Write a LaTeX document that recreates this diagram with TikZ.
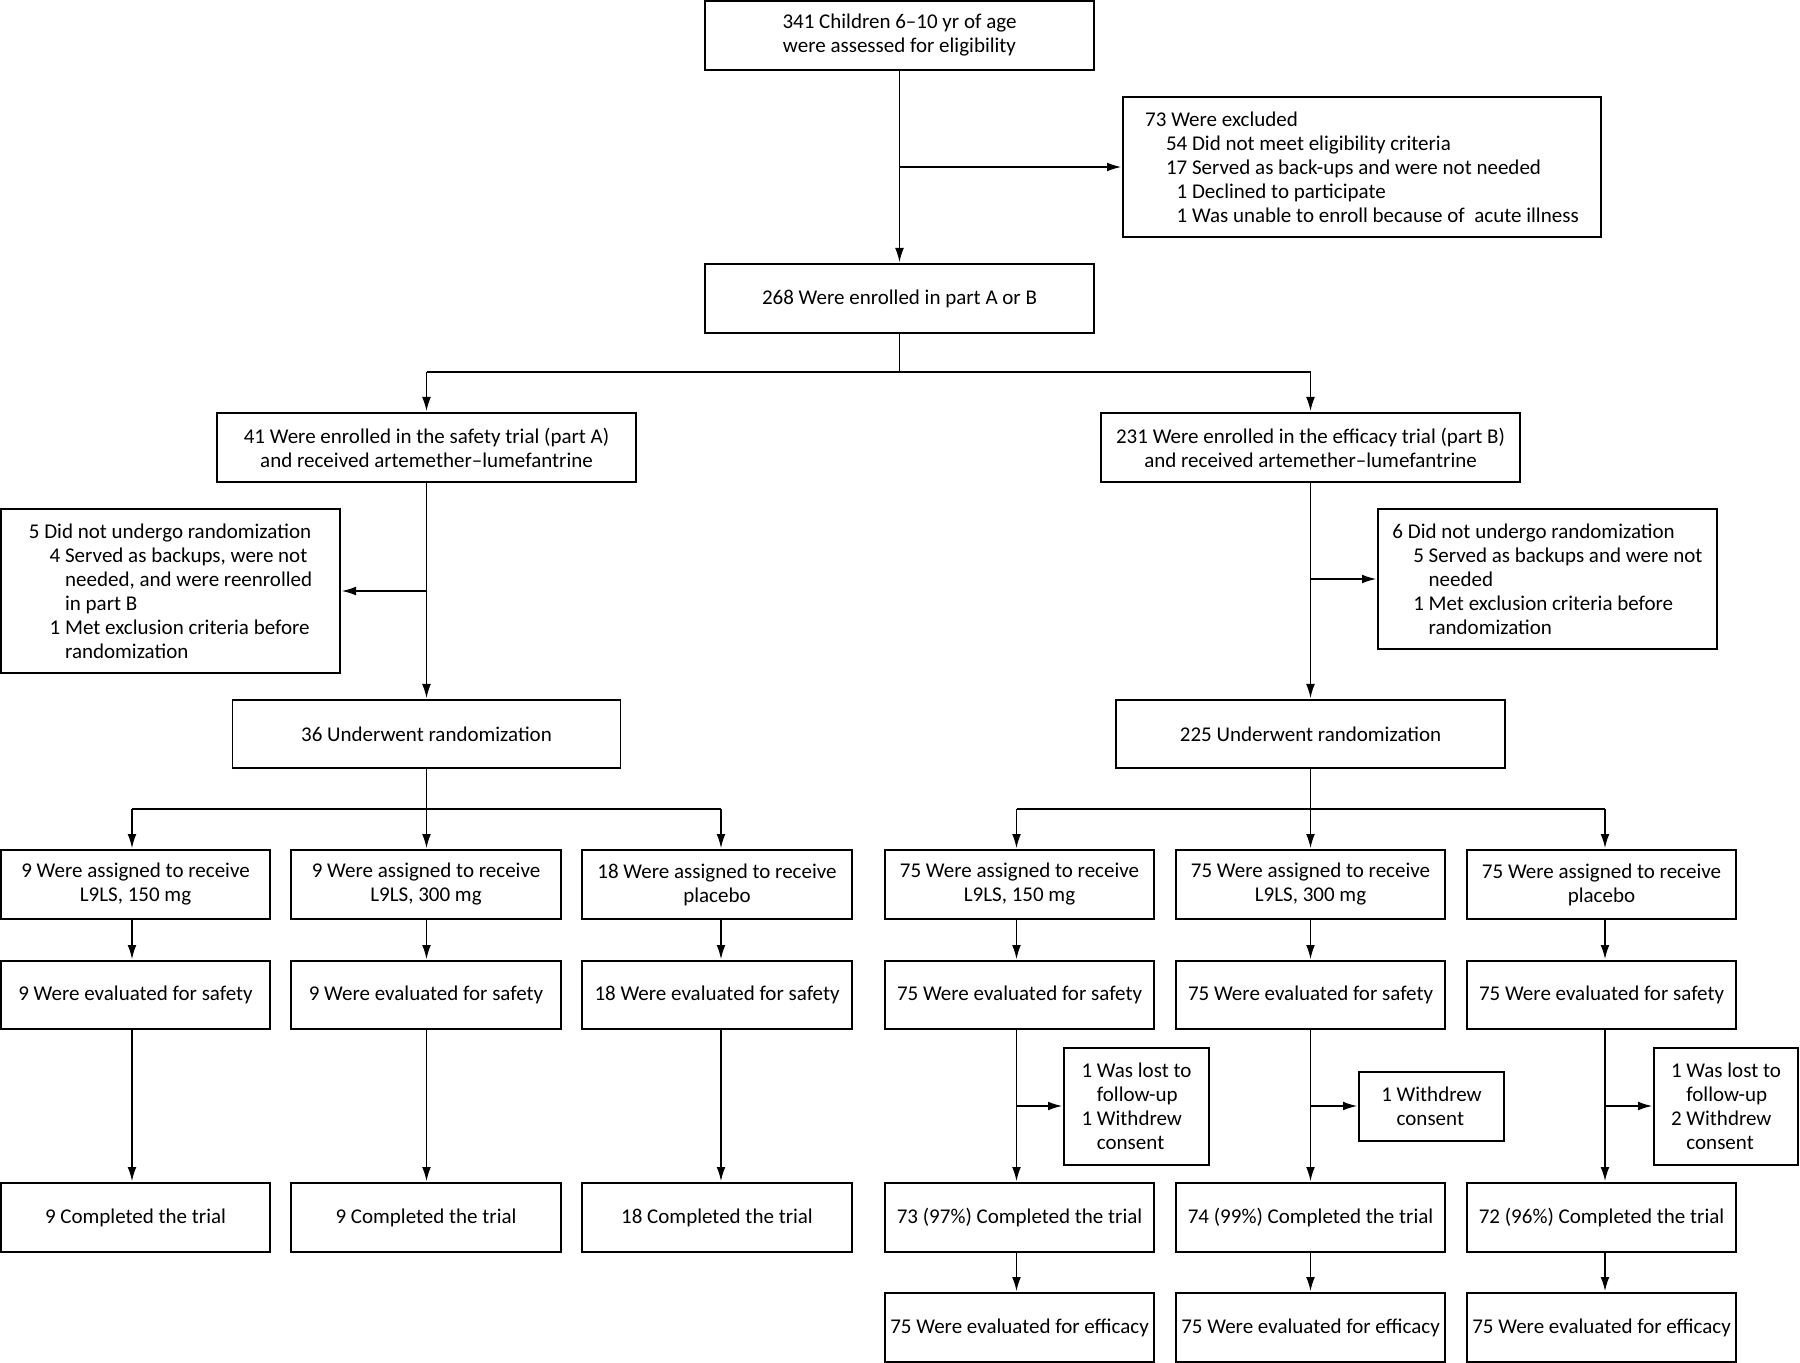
\documentclass[tikz,border=0pt]{standalone}
\usepackage{fontspec}
\setmainfont{Carlito}
\usetikzlibrary{arrows.meta}
\newcommand\ind{\hspace*{10.4pt}}
\newcommand\bx[7][]{%
  \pgfmathsetmacro\bxw{(#5-#3)*0.5}%
  \pgfmathsetmacro\bxh{(#6-#4)*0.5}%
  \node[box, minimum width=\bxw pt, minimum height=\bxh pt, #1] (#2) at ({(#3+#5)/2},{(#4+#6)/2}) {#7};}
\begin{document}
\begin{tikzpicture}[x=0.5pt,y=-0.5pt,
  box/.style={draw, line width=0.7pt, inner sep=0pt, outer sep=0pt,
    font=\fontsize{10.5}{12}\selectfont, align=center},
  lbox/.style={box, align=left},
  link/.style={line width=0.6pt},
  arr/.style={link, -{Latex[length=7pt,width=4.4pt]}, shorten >=1pt}]
\useasboundingbox (0,0) rectangle (1800,1363);

% top part
\bx{top}{705}{1}{1094}{70}{341 Children 6–10 yr of age\\were assessed for eligibility}
\bx[lbox]{excl}{1123}{97}{1601}{237}{73 Were excluded\\
\ind 54 Did not meet eligibility criteria\\
\ind 17 Served as back-ups and were not needed\\
\ind\phantom{1}1 Declined to participate\\
\ind\phantom{1}1 Was unable to enroll because of \ acute illness}
\bx{enr}{705}{264}{1094}{333}{268 Were enrolled in part A or B}

\bx{pA}{217}{413}{636}{482}{41 Were enrolled in the safety trial (part A)\\and received artemether–lumefantrine}
\bx{pB}{1101}{413}{1520}{482}{231 Were enrolled in the efficacy trial (part B)\\and received artemether–lumefantrine}

\bx[lbox]{exA}{1}{509}{340}{673}{5 Did not undergo randomization\\
\ind 4 Served as backups, were not\\
\ind\phantom{4}\ needed, and were reenrolled\\
\ind\phantom{4}\ in part B\\
\ind 1 Met exclusion criteria before\\
\ind\phantom{1}\ randomization}
\bx[lbox]{exB}{1378}{509}{1717}{649}{6 Did not undergo randomization\\
\ind 5 Served as backups and were not\\
\ind\phantom{5}\ needed\\
\ind 1 Met exclusion criteria before\\
\ind\phantom{1}\ randomization}

\bx{rA}{232.5}{700}{620.5}{768}{36 Underwent randomization}
\bx{rB}{1116}{700}{1505}{768}{225 Underwent randomization}

% part A arms
\bx{a1}{1}{850}{270}{919}{9 Were assigned to receive\\L9LS, 150 mg}
\bx{a2}{291}{850}{561}{919}{9 Were assigned to receive\\L9LS, 300 mg}
\bx{a3}{582}{850}{852}{919}{18 Were assigned to receive\\placebo}
\bx{s1}{1}{961}{270}{1029}{9 Were evaluated for safety}
\bx{s2}{291}{961}{561}{1029}{9 Were evaluated for safety}
\bx{s3}{582}{961}{852}{1029}{18 Were evaluated for safety}
\bx{c1}{1}{1183}{270}{1252}{9 Completed the trial}
\bx{c2}{291}{1183}{561}{1252}{9 Completed the trial}
\bx{c3}{582}{1183}{852}{1252}{18 Completed the trial}

% part B arms
\bx{b1}{885}{850}{1154}{919}{75 Were assigned to receive\\L9LS, 150 mg}
\bx{b2}{1176}{850}{1445}{919}{75 Were assigned to receive\\L9LS, 300 mg}
\bx{b3}{1467}{850}{1736}{919}{75 Were assigned to receive\\placebo}
\bx{t1}{885}{961}{1154}{1029}{75 Were evaluated for safety}
\bx{t2}{1176}{961}{1445}{1029}{75 Were evaluated for safety}
\bx{t3}{1467}{961}{1736}{1029}{75 Were evaluated for safety}
\bx[lbox]{w1}{1064}{1048}{1209}{1165}{1 Was lost to\\\phantom{1}\ follow-up\\1 Withdrew\\\phantom{1}\ consent}
\bx[lbox]{w2}{1359}{1072}{1504}{1141}{1 Withdrew\\\phantom{1}\ consent}
\bx[lbox]{w3}{1654}{1048}{1798}{1165}{1 Was lost to\\\phantom{1}\ follow-up\\2 Withdrew\\\phantom{2}\ consent}
\bx{d1}{885}{1183}{1154}{1252}{73 (97\%) Completed the trial}
\bx{d2}{1176}{1183}{1445}{1252}{74 (99\%) Completed the trial}
\bx{d3}{1467}{1183}{1736}{1252}{72 (96\%) Completed the trial}
\bx{e1}{885}{1293}{1154}{1362}{75 Were evaluated for efficacy}
\bx{e2}{1176}{1293}{1445}{1362}{75 Were evaluated for efficacy}
\bx{e3}{1467}{1293}{1736}{1362}{75 Were evaluated for efficacy}

% connectors, top
\draw[arr] (top) -- (enr);
\coordinate (j1) at (899.5,167);
\draw[arr] (j1) -- (j1 -| excl.west);
\coordinate (j2) at (899.5,372);
\draw[link] (enr) -- (j2);
\draw[link] (j2 -| pA) -- (j2 -| pB);
\draw[arr] (j2 -| pA) -- (pA);
\draw[arr] (j2 -| pB) -- (pB);
\draw[arr] (pA) -- (rA);
\draw[arr] (pB) -- (rB);
\coordinate (j3) at (426.5,591);
\draw[arr] (j3) -- (j3 -| exA.east);
\coordinate (j4) at (1310.5,579);
\draw[arr] (j4) -- (j4 -| exB.west);

% part A branches
\coordinate (kA1) at (132,809);
\coordinate (kA2) at (426.5,809);
\coordinate (kA3) at (721,809);
\draw[link] (rA) -- (kA2);
\draw[link] (kA1) -- (kA3);
\foreach \i in {1,2,3}{
  \draw[arr] (kA\i) -- (kA\i |- a\i.north);
  \draw[arr] (kA\i |- a\i.south) -- (kA\i |- s\i.north);
  \draw[arr] (kA\i |- s\i.south) -- (kA\i |- c\i.north);
}

% part B branches
\coordinate (kB1) at (1016.5,809);
\coordinate (kB2) at (1310.5,809);
\coordinate (kB3) at (1605,809);
\draw[link] (rB) -- (kB2);
\draw[link] (kB1) -- (kB3);
\foreach \i in {1,2,3}{
  \draw[arr] (kB\i) -- (kB\i |- b\i.north);
  \draw[arr] (kB\i |- b\i.south) -- (kB\i |- t\i.north);
  \draw[arr] (kB\i |- t\i.south) -- (kB\i |- d\i.north);
  \draw[arr] (kB\i |- d\i.south) -- (kB\i |- e\i.north);
  \coordinate (m\i) at (kB\i |- 0,1106);
  \draw[arr] (m\i) -- (m\i -| w\i.west);
}
\end{tikzpicture}
\end{document}
